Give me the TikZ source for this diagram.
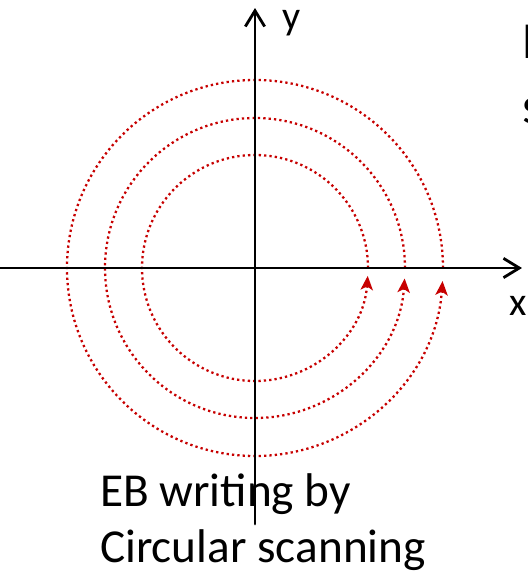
\documentclass[tikz,border=0pt]{standalone}
\usepackage{fontspec}
\setmainfont{Carlito}
\usetikzlibrary{arrows.meta,calc}
\usepackage{tkz-euclide}
\definecolor{ScanClr}{rgb}{0.78,0,0}

\begin{document}
\begin{tikzpicture}
\tkzSetUpLine[line width=1.6pt,color=black]

\tkzDefPoints{0/0/O,-5.12/0/xL,5.34/0/xR,0/-5.12/yB,0/5.2/yT}
\tkzDefPoints{2.26/0/A1,3/0/A2,3.76/0/A3}
\tkzDefPoints{0.52/4.78/Ly,5.07/-0.94/Lx,-3.12/-4.76/Ta,-3.12/-5.88/Tb,5.32/4.2/Ha,5.32/2.9/Hb}

\useasboundingbox (-5.10,-6.12) rectangle (5.46,5.36);
\clip (-5.10,-6.12) rectangle (5.46,5.36);

% scanning circles
\tkzDrawArc[rotate,color=ScanClr,line width=1.3pt,dash pattern=on 1.3pt off 1.75pt,
  -{Stealth[length=8pt,width=7pt,inset=2pt,sep=0pt]}](O,A1)(356)
\tkzDrawArc[rotate,color=ScanClr,line width=1.3pt,dash pattern=on 1.3pt off 1.75pt,
  -{Stealth[length=8pt,width=7pt,inset=2pt,sep=0pt]}](O,A2)(356)
\tkzDrawArc[rotate,color=ScanClr,line width=1.3pt,dash pattern=on 1.3pt off 1.75pt,
  -{Stealth[length=8pt,width=7pt,inset=2pt,sep=0pt]}](O,A3)(356)

% axes
\tkzDrawSegments[-{Straight Barb[length=9pt,width=11pt,line width=1.6pt]}](xL,xR yB,yT)

\tkzLabelPoint[anchor=base west,inner sep=0pt](Ly){\fontsize{22.8}{27}\selectfont y}
\tkzLabelPoint[anchor=base west,inner sep=0pt](Lx){\fontsize{22.8}{27}\selectfont x}
\tkzLabelPoint[anchor=base west,inner sep=0pt](Ta){\fontsize{26.9}{32}\selectfont EB writing by}
\tkzLabelPoint[anchor=base west,inner sep=0pt](Tb){\fontsize{26.9}{32}\selectfont Circular scanning}
\tkzLabelPoint[anchor=base west,inner sep=0pt](Ha){\fontsize{29.6}{35}\selectfont E}
\tkzLabelPoint[anchor=base west,inner sep=0pt](Hb){\fontsize{29.6}{35}\selectfont s}

\end{tikzpicture}
\end{document}
